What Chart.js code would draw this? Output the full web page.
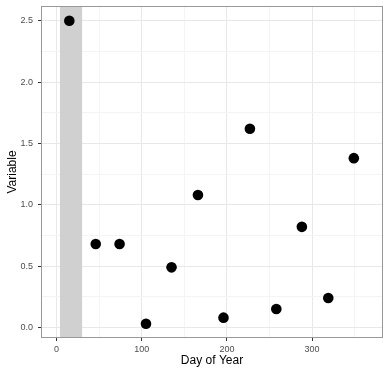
<!DOCTYPE html>
<html><head><meta charset="utf-8">
<script src="https://cdn.jsdelivr.net/npm/chart.js@4"></script>
<style>html,body{margin:0;padding:0;background:#fff}</style>
</head><body>
<canvas id="c" width="390" height="373"></canvas>
<script>
const dayOfYear = [15, 46, 74, 105, 135, 166, 196, 227, 258, 288, 319, 349];
const variableValues = [2.50, 0.68, 0.68, 0.03, 0.49, 1.08, 0.08, 1.62, 0.15, 0.82, 0.24, 1.38];
const shadeDays = [4, 30];
const xMajorTicks = [0, 100, 200, 300];
const xMinorTicks = [50, 150, 250, 350];
const yMajorTicks = [0, 0.5, 1.0, 1.5, 2.0, 2.5];
const yMinorTicks = [0.25, 0.75, 1.25, 1.75, 2.25];
const xLimits = [-18.25, 383.25];
const yLimits = [-0.086, 2.62];
const xTitle = 'Day of Year';
const yTitle = 'Variable';

const FONT = '"Liberation Sans", Arial, Helvetica, sans-serif';
const isMajor = (list, v) => list.some(t => Math.abs(t - v) < 1e-9);

const panelPlugin = {
  id: 'panel',
  beforeDatasetsDraw(chart) {
    const {ctx, chartArea: a, scales: {x}} = chart;
    const x0 = x.getPixelForValue(shadeDays[0]);
    const x1 = x.getPixelForValue(shadeDays[1]);
    ctx.save();
    ctx.fillStyle = '#d0d0d0';
    ctx.fillRect(x0, a.top, x1 - x0, a.bottom - a.top);
    ctx.restore();
  },
  afterDatasetsDraw(chart) {
    const {ctx, chartArea: a} = chart;
    ctx.save();
    ctx.strokeStyle = '#999999';
    ctx.lineWidth = 1;
    ctx.strokeRect(Math.round(a.left) + 0.5, Math.round(a.top) + 0.5,
      Math.round(a.right - a.left) - 1, Math.round(a.bottom - a.top) - 1);
    ctx.restore();
  }
};

new Chart(document.getElementById('c'), {
  type: 'scatter',
  data: {
    datasets: [{
      data: dayOfYear.map((d, i) => ({x: d, y: variableValues[i]})),
      backgroundColor: '#000000',
      borderColor: '#000000',
      pointRadius: 5.3,
      pointHoverRadius: 5.3,
      borderWidth: 0
    }]
  },
  options: {
    responsive: false,
    animation: false,
    devicePixelRatio: 1,
    layout: {padding: {left: 0, right: 7, top: 6, bottom: 0}},
    plugins: {legend: {display: false}, tooltip: {enabled: false}},
    scales: {
      x: {
        type: 'linear',
        min: xLimits[0],
        max: xLimits[1],
        afterBuildTicks: s => { s.ticks = [...xMajorTicks, ...xMinorTicks].sort((a, b) => a - b).map(v => ({value: v})); },
        afterFit: s => { s.height = 35; s.paddingLeft = 0; s.paddingRight = 0; },
        border: {display: false},
        grid: {
          color: c => isMajor(xMajorTicks, c.tick.value) ? '#e8e8e8' : '#f4f4f4',
          tickColor: c => isMajor(xMajorTicks, c.tick.value) ? '#333333' : 'rgba(0,0,0,0)',
          tickLength: 3,
          lineWidth: 1
        },
        ticks: {
          autoSkip: false,
          maxRotation: 0,
          padding: 3,
          color: '#4d4d4d',
          font: {family: FONT, size: 9},
          callback: v => isMajor(xMajorTicks, v) ? String(v) : ''
        },
        title: {
          display: true,
          text: xTitle,
          color: '#000000',
          font: {family: FONT, size: 12},
          padding: {top: 0, bottom: 5}
        }
      },
      y: {
        type: 'linear',
        min: yLimits[0],
        max: yLimits[1],
        afterBuildTicks: s => { s.ticks = [...yMajorTicks, ...yMinorTicks].sort((a, b) => a - b).map(v => ({value: v})); },
        afterFit: s => { s.width = 41; s.paddingTop = 0; s.paddingBottom = 0; },
        border: {display: false},
        grid: {
          color: c => isMajor(yMajorTicks, c.tick.value) ? '#e8e8e8' : '#f4f4f4',
          tickColor: c => isMajor(yMajorTicks, c.tick.value) ? '#333333' : 'rgba(0,0,0,0)',
          tickLength: 3,
          lineWidth: 1
        },
        ticks: {
          autoSkip: false,
          padding: 5,
          color: '#4d4d4d',
          font: {family: FONT, size: 9},
          callback: v => isMajor(yMajorTicks, v) ? v.toFixed(1) : ''
        },
        title: {
          display: true,
          text: yTitle,
          color: '#000000',
          font: {family: FONT, size: 12},
          padding: {top: 5, bottom: 0}
        }
      }
    }
  },
  plugins: [panelPlugin]
});
</script>
</body></html>
